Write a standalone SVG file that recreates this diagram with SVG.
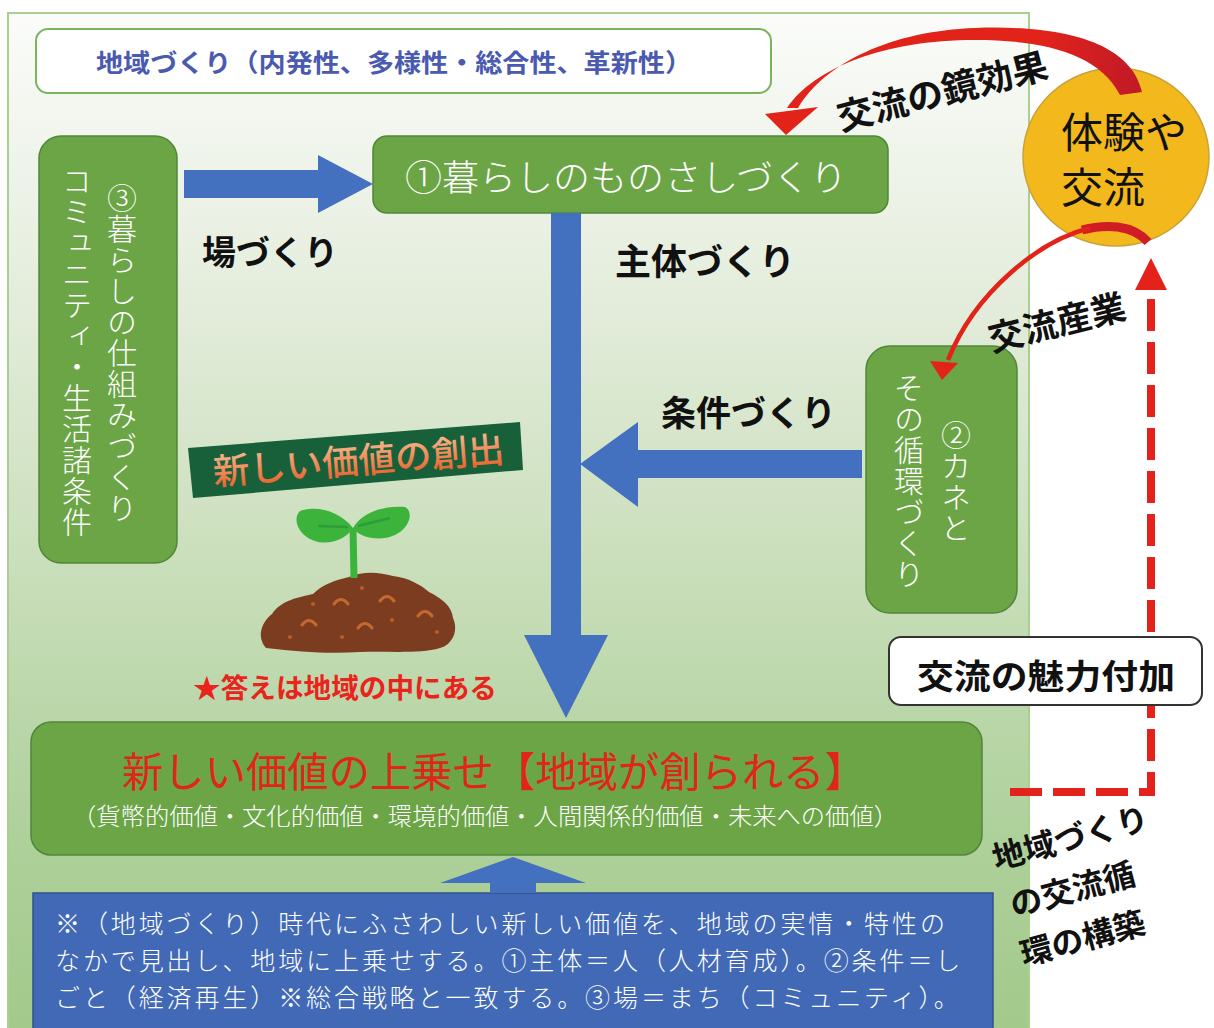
<svg xmlns="http://www.w3.org/2000/svg" width="1214" height="1028" viewBox="0 0 1214 1028">
  <defs>
    <linearGradient id="bgGrad" x1="0" y1="13" x2="0" y2="1028" gradientUnits="userSpaceOnUse">
      <stop offset="0" stop-color="#fbfcfa"/>
      <stop offset="0.28" stop-color="#e4eddc"/>
      <stop offset="0.55" stop-color="#c9deba"/>
      <stop offset="0.8" stop-color="#afd19c"/>
      <stop offset="1" stop-color="#a3c98b"/>
    </linearGradient>
    <linearGradient id="mirrorGrad" x1="1040" y1="0" x2="1140" y2="0" gradientUnits="userSpaceOnUse">
      <stop offset="0" stop-color="#e2231a"/>
      <stop offset="1" stop-color="#c01a28"/>
    </linearGradient>
    <linearGradient id="bannerText" x1="0" y1="-30" x2="0" y2="4" gradientUnits="userSpaceOnUse">
      <stop offset="0" stop-color="#f6b48a"/>
      <stop offset="1" stop-color="#e8622c"/>
    </linearGradient>
    <style>
      text { font-family: "Noto Sans CJK JP", "Noto Sans CJK SC", sans-serif; }
      .gbox { fill: #6ba546; stroke: #50863a; stroke-width: 1.5; }
      .blue { fill: #4470c0; }
      .lbl { font-weight: 700; fill: #111; }
      .thin { font-weight: 300; fill: #fff; }
      .vert { writing-mode: vertical-rl; font-weight: 300; fill: #fff; font-size: 30px; letter-spacing: 1px; }
    </style>
  </defs>

  <!-- background panel -->
  <rect x="8" y="13" width="1021" height="1030" fill="url(#bgGrad)" stroke="#a9d08e" stroke-width="2"/>

  <!-- header -->
  <g id="header">
    <rect x="36" y="29" width="735" height="64" rx="12" fill="#fff" stroke="#7ab55c" stroke-width="2"/>
    <text x="96" y="72" font-size="25" font-weight="700" fill="#4a5ab0" textLength="596" lengthAdjust="spacingAndGlyphs">地域づくり（内発性、多様性・総合性、革新性）</text>
  </g>

  <!-- ① yardstick of living -->
  <g id="node-yardstick">
    <rect class="gbox" x="373" y="136" width="515" height="77" rx="14"/>
    <text class="thin" x="405" y="191" font-size="36" textLength="442" lengthAdjust="spacingAndGlyphs">①暮らしのものさしづくり</text>
  </g>

  <!-- ③ living mechanism -->
  <g id="node-mechanism">
    <rect class="gbox" x="39" y="136" width="138" height="427" rx="22"/>
    <text class="vert" x="122" y="183">③暮らしの仕組みづくり</text>
    <text class="vert" x="77" y="166">コミュニティ・生活諸条件</text>
  </g>

  <!-- ② money circulation -->
  <g id="node-money">
    <rect class="gbox" x="866" y="346" width="151" height="267" rx="24"/>
    <text class="vert" x="956" y="420">②カネと</text>
    <text class="vert" x="909" y="373">その循環づくり</text>
  </g>

  <!-- experience and exchange -->
  <g id="node-exchange">
    <ellipse cx="1116" cy="157" rx="93" ry="89" fill="#f2b81c" stroke="#c9a23a" stroke-width="1.5"/>
    <text x="1061" y="148" font-size="42" font-weight="400" fill="#111">体験や</text>
    <text x="1061" y="203" font-size="42" font-weight="400" fill="#111">交流</text>
  </g>

  <!-- creation of new value: banner and seedling -->
  <g id="node-creation">
    <polygon points="188,448 520,422 523,470 193,498" fill="#17603a"/>
    <text transform="translate(214,485) rotate(-4.5)" font-size="36" font-weight="500" fill="url(#bannerText)" textLength="292" lengthAdjust="spacingAndGlyphs">新しい価値の創出</text>
    <!-- soil -->
    <path d="M266,648 C256,636 262,622 272,614 C281,600 300,597 313,594 C323,584 336,580 349,577 C363,571 379,572 393,576 C409,578 421,585 429,592 C441,598 452,606 453,618 C459,631 452,645 440,648 C420,654 390,651 360,652 C330,654 300,652 266,648 Z" fill="#7b3c1f"/>
    <g fill="none" stroke="#c4692f" stroke-width="3" stroke-linecap="round">
      <path d="M334,604 Q341,595 348,604"/>
      <path d="M380,601 Q387,592 394,601"/>
      <path d="M302,625 Q309,616 316,625"/>
      <path d="M358,628 Q365,619 372,628"/>
      <path d="M418,616 Q425,607 432,616"/>
    </g>
    <g fill="#b85e2a">
      <circle cx="313" cy="604" r="2"/>
      <circle cx="362" cy="588" r="2"/>
      <circle cx="290" cy="637" r="2"/>
      <circle cx="342" cy="637" r="2"/>
      <circle cx="392" cy="620" r="2"/>
      <circle cx="437" cy="632" r="2"/>
    </g>
    <!-- stem and leaves -->
    <path d="M353,528 L354,578" stroke="#3cb43c" stroke-width="7" fill="none"/>
    <path d="M353,528 C340,512 318,505 300,511 C291,520 300,538 318,542 C335,545 348,536 353,528 Z" fill="#3cb43c"/>
    <path d="M353,528 C362,512 385,505 405,507 C414,512 410,528 395,535 C380,542 360,538 353,528 Z" fill="#3cb43c"/>
    <path d="M318,526 L348,527 M358,526 L390,518" stroke="#2f9c38" stroke-width="2.5" fill="none"/>
    <text x="193" y="698" font-size="27" font-weight="700" fill="#e8241c" textLength="304" lengthAdjust="spacingAndGlyphs">★答えは地域の中にある</text>
  </g>

  <!-- new value added -->
  <g id="node-value">
    <rect class="gbox" x="31" y="722" width="951" height="133" rx="20"/>
    <text x="122" y="787" font-size="41" font-weight="400" fill="#e0251b" textLength="744" lengthAdjust="spacingAndGlyphs">新しい価値の上乗せ【地域が創られる】</text>
    <text class="thin" x="72" y="825" font-size="24" textLength="826" lengthAdjust="spacingAndGlyphs">（貨幣的価値・文化的価値・環境的価値・人間関係的価値・未来への価値）</text>
  </g>

  <!-- note -->
  <g id="node-note">
    <rect x="33" y="893" width="960" height="150" fill="#4169b5" stroke="#2f528f" stroke-width="1.5"/>
    <g class="thin" font-size="25" letter-spacing="2.9">
      <text x="55" y="933">※（地域づくり）時代にふさわしい新しい価値を、地域の実情・特性の</text>
      <text x="55" y="970">なかで見出し、地域に上乗せする。①主体＝人（人材育成）。②条件＝し</text>
      <text x="55" y="1007">ごと（経済再生）※総合戦略と一致する。③場＝まち（コミュニティ）。</text>
    </g>
  </g>

  <!-- connectors -->
  <g id="connectors">
    <!-- place-making arrow -->
    <polygon class="blue" points="184,170 318,170 318,155 373,184 318,213 318,198 184,198"/>
    <!-- subject-making arrow -->
    <polygon class="blue" points="551,213 581,213 581,635 608,635 566,718 524,635 551,635"/>
    <!-- condition-making arrow -->
    <polygon class="blue" points="862,450 638,450 638,422 580,464 638,507 638,478 862,478"/>
    <!-- up arrow from note -->
    <polygon class="blue" points="490,893 490,883 440,883 513,857 586,883 536,883 536,893"/>

    <!-- mirror effect curve -->
    <path d="M1142,92 C1130,38 1052,25 975,28 C892,31 826,62 798,108 L787,108 C814,68 884,40 975,40 C1040,40 1098,52 1120,95 Z" fill="url(#mirrorGrad)"/>
    <polygon points="765,114 818,107 786,135" fill="#e2231a"/>

    <!-- exchange industry curve -->
    <path d="M1148,242 C1132,224 1105,224 1082,230" fill="none" stroke="#d01c24" stroke-width="9"/>
    <path d="M1090,228 C1040,240 975,292 948,360" fill="none" stroke="#e2231a" stroke-width="4.5"/>
    <polygon points="930,361 958,363 942,380" fill="#e2231a"/>

    <!-- exchange cycle dashed return -->
    <path d="M1010,792 L1151,792 L1151,292" fill="none" stroke="#e3221b" stroke-width="8" stroke-dasharray="32 11"/>
    <polygon points="1151,258 1167,290 1135,290" fill="#e3221b"/>
  </g>

  <!-- adding appeal (sits over the dashed return line) -->
  <g id="node-appeal">
    <rect x="889" y="637" width="313" height="68" rx="12" fill="#fff" stroke="#333" stroke-width="2"/>
    <text class="lbl" x="917" y="689" font-size="34" textLength="258" lengthAdjust="spacingAndGlyphs">交流の魅力付加</text>
  </g>

  <!-- arrow labels -->
  <g id="labels">
    <text class="lbl" x="202" y="265" font-size="34">場づくり</text>
    <text class="lbl" x="615" y="275" font-size="36">主体づくり</text>
    <text class="lbl" x="661" y="426" font-size="35">条件づくり</text>
    <text class="lbl" transform="translate(841,131) rotate(-14.5)" font-size="36">交流の鏡効果</text>
    <text class="lbl" transform="translate(992,352) rotate(-14)" font-size="35">交流産業</text>
    <g transform="translate(996,870) rotate(-15)" font-size="32">
      <text class="lbl" x="0" y="0">地域づくり</text>
      <text class="lbl" x="5" y="50">の交流循</text>
      <text class="lbl" x="2" y="100">環の構築</text>
    </g>
  </g>
</svg>
